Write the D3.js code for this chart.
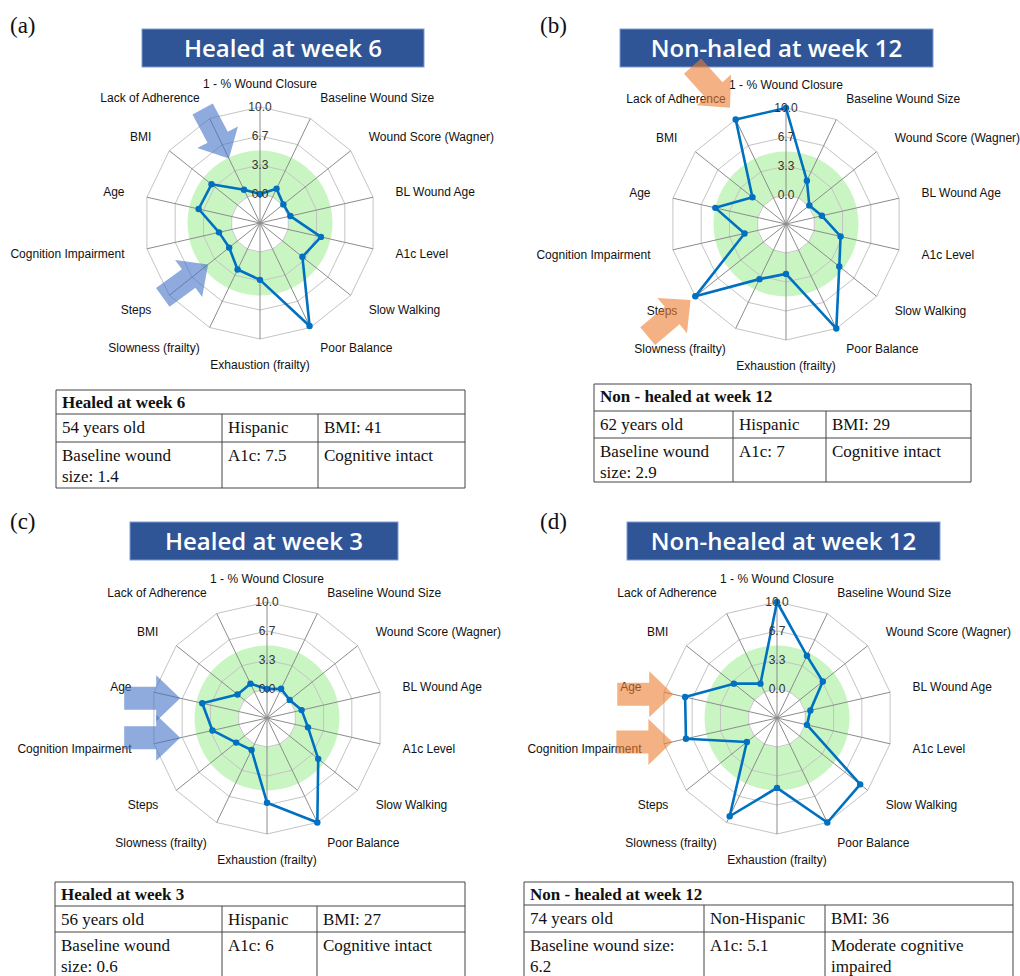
<!DOCTYPE html>
<html>
<head>
<meta charset="utf-8">
<style>
  body { margin: 0; background: #fff; }
  svg text { font-family: "Liberation Sans", Arial, sans-serif; }
  .axis-label { font-size: 12px; fill: #111; }
  .tick-label { font-size: 12px; fill: #333; }
  .ring { fill: none; stroke: #c4c4c4; stroke-width: 1px; }
  .spoke { stroke: #8c8c8c; stroke-width: 1px; }
  .series { fill: none; stroke: #0070C0; stroke-width: 2.6px; stroke-linejoin: round; }
  .dot { fill: #0070C0; }
  .banner { fill: #2F5597; stroke: #7f9bd3; stroke-width: 1px; }
  .banner-text { font-family: "Open Sans", sans-serif; font-weight: 600; font-size: 24px; fill: #fff; }
  .panel-tag { font-family: "Liberation Serif", serif; font-size: 23px; fill: #111; }
  .tbl line { stroke: #444; stroke-width: 1px; }
  .tbl text { font-family: "Liberation Serif", serif; font-size: 17px; fill: #111; }
  .tbl text.head { font-weight: bold; }
</style>
</head>
<body>
<script src="https://d3js.org/d3.v7.min.js"></script>
<script>
// axes of the radar, clockwise from the top
var axisLabels = ["1 - % Wound Closure", "Baseline Wound Size", "Wound Score (Wagner)",
  "BL Wound Age", "A1c Level", "Slow Walking", "Poor Balance", "Exhaustion (frailty)",
  "Slowness (frailty)", "Steps", "Cognition Impairment", "Age", "BMI", "Lack of Adherence"];

var tickValues = [0, 10 / 3, 20 / 3, 10];
var tickLabels = ["0.0", "3.3", "6.7", "10.0"];
var greenBand = [0, 5];   // shaded target zone

var valuesA = [0, 1.05, 0.1, 0.25, 3.85, 2.9, 9.8, 3.2, 2.6, 1.2, 1.5, 3.9, 3.8, 0.9];
var valuesB = [10, 2.2, 0.1, 0.9, 3.1, 4.5, 10, 2.4, 3.7, 10, 1.55, 5.0, 1.6, 10];
var valuesC = [0, 0.4, 0, 0.75, 1.5, 4.2, 10, 6.4, 0.75, 1.2, 3.1, 4.3, 1.0, 1.05];
var valuesD = [10, 4.6, 3.4, 0.6, 0.2, 8.9, 10, 4.7, 9.2, 1.1, 7.4, 7.5, 3.0, 1.05];

var titles = ["Healed at week 6", "Non-haled at week 12", "Healed at week 3", "Non-healed at week 12"];
var tags = ["(a)", "(b)", "(c)", "(d)"];

var tableA = [["Healed at week 6"], ["54 years old", "Hispanic", "BMI: 41"],
  ["Baseline wound|size: 1.4", "A1c: 7.5", "Cognitive intact"]];
var tableB = [["Non - healed at week 12"], ["62 years old", "Hispanic", "BMI: 29"],
  ["Baseline wound|size: 2.9", "A1c: 7", "Cognitive intact"]];
var tableC = [["Healed at week 3"], ["56 years old", "Hispanic", "BMI: 27"],
  ["Baseline wound|size: 0.6", "A1c: 6", "Cognitive intact"]];
var tableD = [["Non - healed at week 12"], ["74 years old", "Non-Hispanic", "BMI: 36"],
  ["Baseline wound size:|6.2", "A1c: 5.1", "Moderate cognitive|impaired"]];

// arrows point at an axis (index) at a given value, coming from direction `dir` (deg, screen)
var arrowsA = [{ axis: 13, value: 4.9, dir: 62 }, { axis: 9, value: 4.3, dir: -36 }];
var arrowsB = [{ axis: 13, value: 11.5, dir: 48 }, { axis: 9, value: 10.7, dir: -40 }];
var arrowsC = [{ axis: 11, value: 6.9, dir: 0 }, { axis: 10, value: 6.9, dir: 0 }];
var arrowsD = [{ axis: 11, value: 8.9, dir: 0 }, { axis: 10, value: 9.0, dir: 0 }];

var panels = [
  { tag: tags[0], title: titles[0], values: valuesA, arrows: arrowsA, color: "#4472C4", table: tableA,
    tagX: 10, tagY: 33, cx: 260, cy: 223, banner: [142, 29, 282, 38],
    tbl: { x: [56, 222, 318, 465], y: [390, 414, 442, 488] } },
  { tag: tags[1], title: titles[1], values: valuesB, arrows: arrowsB, color: "#ED7D31", table: tableB,
    tagX: 540, tagY: 33, cx: 786, cy: 224, banner: [620, 29, 313, 38],
    tbl: { x: [594, 733, 826, 971], y: [384, 411, 438, 482] } },
  { tag: tags[2], title: titles[2], values: valuesC, arrows: arrowsC, color: "#4472C4", table: tableC,
    tagX: 10, tagY: 529, cx: 267, cy: 718, banner: [130, 522, 268, 38],
    tbl: { x: [55, 222, 317, 465], y: [882, 906, 932, 990] } },
  { tag: tags[3], title: titles[3], values: valuesD, arrows: arrowsD, color: "#ED7D31", table: tableD,
    tagX: 540, tagY: 529, cx: 777, cy: 718, banner: [627, 522, 313, 38],
    tbl: { x: [524, 704, 825, 1013], y: [882, 905, 932, 990] } }
];

var R = 116;
var rScale = d3.scaleLinear().domain([-10 / 3, 10]).range([0, R]);
var angle = d3.scaleLinear().domain([0, axisLabels.length]).range([0, 2 * Math.PI]);

var svg = d3.select("body").append("svg")
  .attr("width", 1020).attr("height", 976);

var radial = d3.lineRadial()
  .angle(function (d, i) { return angle(i); })
  .radius(function (d) { return rScale(d); })
  .curve(d3.curveLinearClosed);

function polar(i, v) {
  var a = angle(i), r = rScale(v);
  return [r * Math.sin(a), -r * Math.cos(a)];
}

// block arrow with its tip at the origin, pointing along +x
function arrowPath(L, w1, w2, h) {
  return "M0,0 L" + (-h) + "," + (-w2) + " L" + (-h) + "," + (-w1) + " L" + (-L) + "," + (-w1) +
    " L" + (-L) + "," + w1 + " L" + (-h) + "," + w1 + " L" + (-h) + "," + w2 + " Z";
}

panels.forEach(function (p) {
  svg.append("text").attr("class", "panel-tag")
    .attr("x", p.tagX).attr("y", p.tagY).text(p.tag);

  svg.append("rect").attr("class", "banner")
    .attr("x", p.banner[0]).attr("y", p.banner[1])
    .attr("width", p.banner[2]).attr("height", p.banner[3]);
  svg.append("text").attr("class", "banner-text")
    .attr("x", p.banner[0] + p.banner[2] / 2).attr("y", p.banner[1] + p.banner[3] / 2)
    .attr("text-anchor", "middle").attr("dy", "0.36em")
    .text(p.title);

  var g = svg.append("g").attr("transform", "translate(" + p.cx + "," + p.cy + ")");

  // green zone
  g.append("path")
    .attr("d", d3.arc()({ innerRadius: rScale(greenBand[0]), outerRadius: rScale(greenBand[1]),
      startAngle: 0, endAngle: 2 * Math.PI }))
    .attr("fill", "#c9f5c2");

  // rings
  g.selectAll(".ring").data(tickValues).enter().append("path")
    .attr("class", "ring")
    .attr("d", function (t) { return radial(axisLabels.map(function () { return t; })); });

  // spokes
  g.selectAll(".spoke").data(axisLabels).enter().append("line")
    .attr("class", "spoke")
    .attr("x1", 0).attr("y1", 0)
    .attr("x2", function (d, i) { return polar(i, 10)[0]; })
    .attr("y2", function (d, i) { return polar(i, 10)[1]; });

  // axis labels
  g.selectAll(".axis-label").data(axisLabels).enter().append("text")
    .attr("class", "axis-label")
    .attr("x", function (d, i) { return 139 * Math.sin(angle(i)); })
    .attr("y", function (d, i) { return -139 * Math.cos(angle(i)); })
    .attr("dy", function (d, i) { return Math.cos(angle(i)) < -0.99 ? "0.55em" : "0.35em"; })
    .attr("text-anchor", function (d, i) {
      var s = Math.sin(angle(i));
      return Math.abs(s) < 0.01 ? "middle" : (s > 0 ? "start" : "end");
    })
    .text(function (d) { return d; });

  // series
  g.append("path").attr("class", "series").attr("d", radial(p.values));
  g.selectAll(".dot").data(p.values).enter().append("circle")
    .attr("class", "dot").attr("r", 3.2)
    .attr("cx", function (d, i) { return polar(i, d)[0]; })
    .attr("cy", function (d, i) { return polar(i, d)[1]; });

  // tick labels on the vertical axis
  g.selectAll(".tick-label").data(tickValues).enter().append("text")
    .attr("class", "tick-label")
    .attr("x", 0).attr("y", function (t) { return -rScale(t); })
    .attr("dy", "0.35em").attr("text-anchor", "middle")
    .text(function (t, i) { return tickLabels[i]; });

  // arrows
  g.selectAll(".arrow").data(p.arrows).enter().append("path")
    .attr("class", "arrow")
    .attr("d", arrowPath(56, 11.5, 23, 24))
    .attr("transform", function (a) {
      var pt = polar(a.axis, a.value);
      return "translate(" + pt[0] + "," + pt[1] + ") rotate(" + a.dir + ")";
    })
    .attr("fill", p.color).attr("fill-opacity", 0.6);

  // table
  var tx = p.tbl.x, ty = p.tbl.y;
  var tg = svg.append("g").attr("class", "tbl");
  ty.forEach(function (y) {
    tg.append("line").attr("x1", tx[0]).attr("x2", tx[3]).attr("y1", y).attr("y2", y);
  });
  [tx[0], tx[3]].forEach(function (x) {
    tg.append("line").attr("x1", x).attr("x2", x).attr("y1", ty[0]).attr("y2", ty[3]);
  });
  [tx[1], tx[2]].forEach(function (x) {
    tg.append("line").attr("x1", x).attr("x2", x).attr("y1", ty[1]).attr("y2", ty[3]);
  });
  tg.append("text").attr("class", "head")
    .attr("x", tx[0] + 6).attr("y", ty[0] + 18).text(p.table[0][0]);
  [1, 2].forEach(function (r) {
    p.table[r].forEach(function (cell, c) {
      var lines = cell.split("|");
      var t = tg.append("text").attr("x", tx[c] + 6).attr("y", ty[r] + 19);
      lines.forEach(function (ln, k) {
        t.append("tspan").attr("x", tx[c] + 6).attr("dy", k === 0 ? 0 : 21).text(ln);
      });
    });
  });
});
</script>
</body>
</html>
